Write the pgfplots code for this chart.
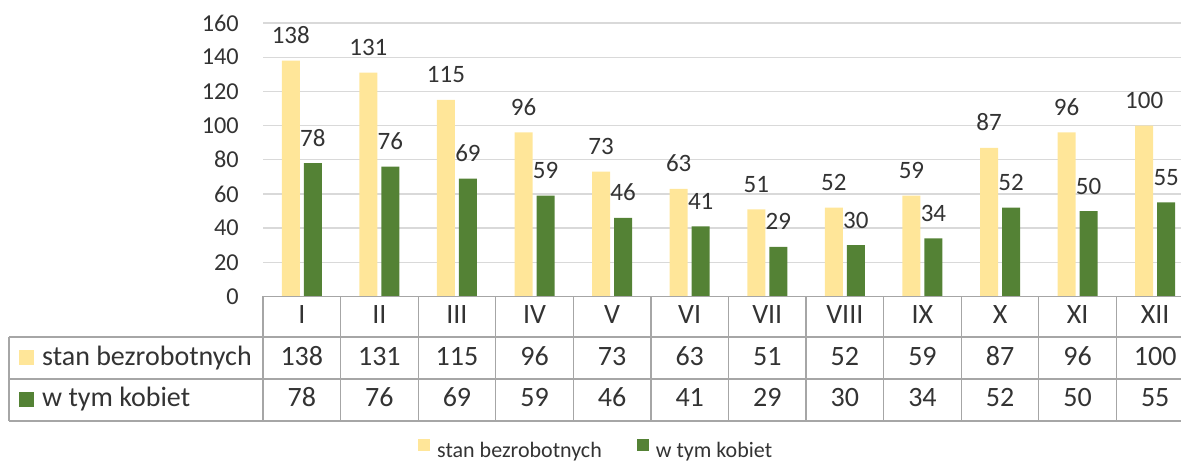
\documentclass[border=0pt]{standalone}
\usepackage{fontspec}
\setmainfont{Carlito}
\usepackage{pgfplots}
\usepackage{pgfplotstable}
\pgfplotsset{compat=1.18}
\definecolor{cyel}{HTML}{FFE699}
\definecolor{cgrn}{HTML}{548235}
\definecolor{cgrid}{HTML}{D9D9D9}
\definecolor{cbord}{HTML}{A6A6A6}
\definecolor{ctxt}{HTML}{333333}
\newcommand\tfont{\fontsize{28}{30}\selectfont}
\pgfplotstableread{
m yel grn
0 138 78
1 131 76
2 115 69
3 96 59
4 73 46
5 63 41
6 51 29
7 52 30
8 59 34
9 87 52
10 96 50
11 100 55
}\data
\begin{document}
\begin{tikzpicture}[x=1pt,y=1pt]
\path[use as bounding box, clip] (0,0) rectangle (1181,464);
\begin{axis}[
  at={(263pt,167.5pt)}, anchor=south west,
  scale only axis, width=931pt, height=273.5pt,
  xmin=-0.5, xmax=11.5, ymin=0, ymax=160,
  ytick={0,20,...,160}, xtick=\empty,
  ymajorgrids, grid style={cgrid, line width=1.3pt},
  axis line style={draw=none},
  major tick length=0pt,
  /pgf/number format/assume math mode=true,
  yticklabel style={font=\fontsize{24.3}{26}\selectfont, text=ctxt, inner sep=0pt, anchor=east, xshift=-24pt},
  ybar=4pt, bar width=18pt,
  nodes near coords,
  every node near coord/.append style={font=\fontsize{25}{27}\selectfont, text=ctxt, anchor=base, inner sep=0pt, yshift=17pt},
  legend image code/.code={\draw[#1,draw=none] (0pt,0pt) rectangle (12pt,12pt);},
  legend style={at={(0.1665,-0.5576)}, anchor=west, draw=none, fill=none, inner sep=0pt,
    legend columns=2, font=\fontsize{22}{24}\selectfont, text=ctxt,
    nodes={inner sep=0pt},
    /tikz/every odd column/.append style={column sep=7pt},
    /tikz/every even column/.append style={column sep=35pt}},
]
\addplot[fill=cyel, draw=none] table[x=m, y=yel]{\data};
\addlegendentry{stan bezrobotnych}
\addplot[fill=cgrn, draw=none] table[x=m, y=grn]{\data};
\addlegendentry{w tym kobiet}
\end{axis}
% data table
\def\cw{77.583}
\begin{scope}[draw=cbord, line width=1.3pt]
\draw (263,167.5) -- (1200,167.5);
\draw (9,127) -- (1200,127);
\draw (9,85) -- (1200,85);
\draw (9,43) -- (1200,43);
\draw (9,127) -- (9,43);
\foreach \k in {0,1,2,3,4,5,6,7,8,9,10,11,12} \draw ({263+\k*\cw},167.5) -- ({263+\k*\cw},43);
\end{scope}
\foreach \r [count=\i from 0] in {I,II,III,IV,V,VI,VII,VIII,IX,X,XI,XII}
  \node[anchor=base, inner sep=0pt, font=\tfont, text=ctxt] at ({263+(\i+0.5)*\cw},140) {\r};
\foreach \v [count=\i from 0] in {138,131,115,96,73,63,51,52,59,87,96,100}
  \node[anchor=base, inner sep=0pt, font=\tfont, text=ctxt] at ({263+(\i+0.5)*\cw},99) {\v};
\foreach \v [count=\i from 0] in {78,76,69,59,46,41,29,30,34,52,50,55}
  \node[anchor=base, inner sep=0pt, font=\tfont, text=ctxt] at ({263+(\i+0.5)*\cw},57.5) {\v};
\fill[cyel] (19,99) rectangle (34,114);
\fill[cgrn] (19,57.5) rectangle (34,72.5);
\node[anchor=base west, inner sep=0pt, font=\tfont, text=ctxt] at (42,99) {stan bezrobotnych};
\node[anchor=base west, inner sep=0pt, font=\tfont, text=ctxt] at (42,57.5) {w tym kobiet};
\end{tikzpicture}
\end{document}
